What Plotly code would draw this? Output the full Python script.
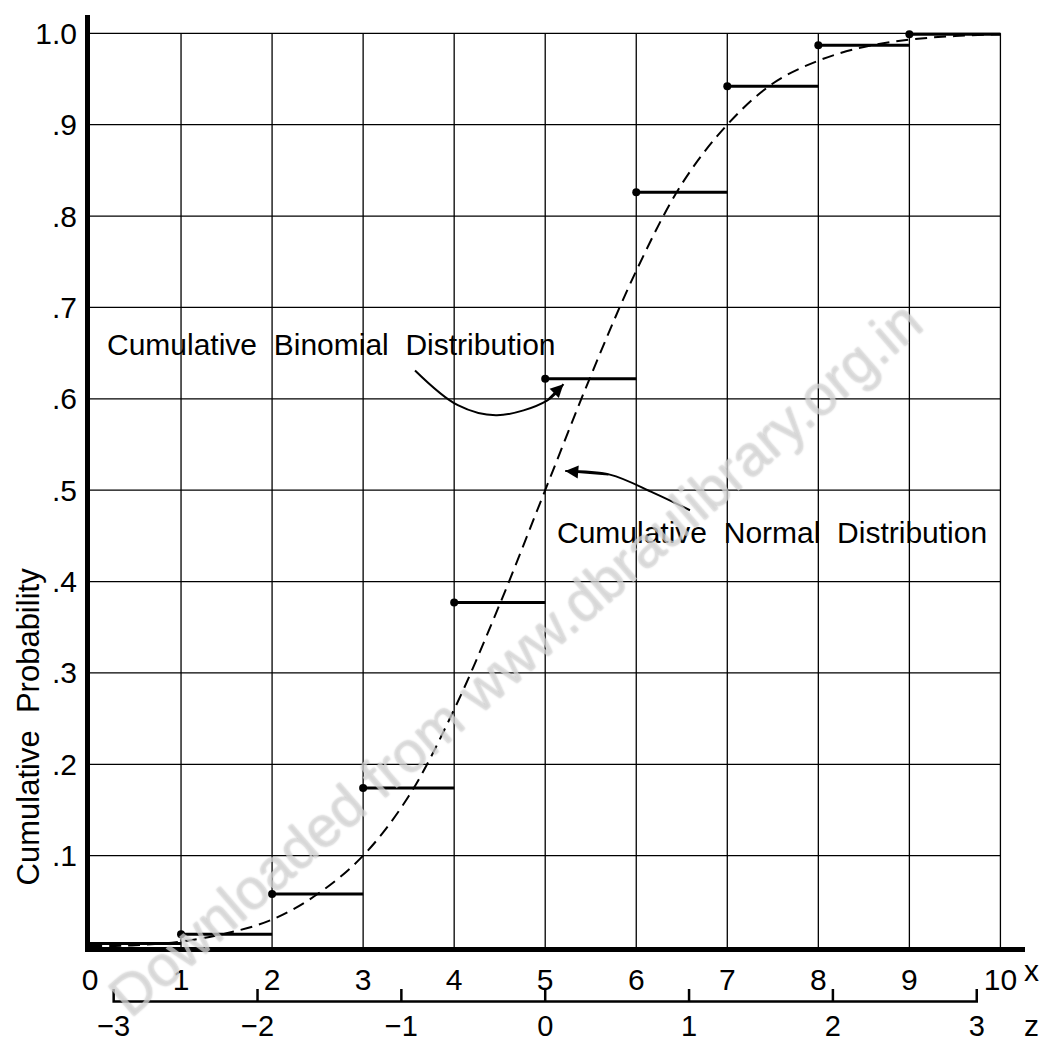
import plotly.graph_objects as go

# Cumulative binomial (n=10, p=.5)
x_values = [0, 1, 2, 3, 4, 5, 6, 7, 8, 9]
binom_cum = [0.004, 0.014, 0.058, 0.174, 0.377, 0.622, 0.826, 0.942, 0.987, 0.999]

# Dashed normal curve, read at half-unit steps
normal_x = [0, 0.5, 1, 1.5, 2, 2.5, 3, 3.5, 4, 4.5, 5, 5.5, 6, 6.5, 7, 7.5, 8, 8.5, 9, 9.5, 10]
normal_cum = [0.001, 0.002, 0.006, 0.015, 0.03, 0.058, 0.10, 0.165, 0.26, 0.375, 0.50,
              0.625, 0.74, 0.835, 0.90, 0.945, 0.97, 0.985, 0.993, 0.997, 0.999]

x_ticks = list(range(11))
x_ticktext = [str(v) for v in x_ticks]
y_ticks = [0.1, 0.2, 0.3, 0.4, 0.5, 0.6, 0.7, 0.8, 0.9, 1.0]
y_ticktext = [".1", ".2", ".3", ".4", ".5", ".6", ".7", ".8", ".9", "1.0"]
z_ticks = [-3, -2, -1, 0, 1, 2, 3]
z_ticktext = ["\u22123", "\u22122", "\u22121", "0", "1", "2", "3"]

MEAN = 5.0
SD = 1.58  # z = (x - 5) / 1.58

# curved pointer paths (data units)
binom_arrow_x = [3.57, 4.04, 4.47, 5.02, 5.20]
binom_arrow_y = [0.631, 0.593, 0.582, 0.598, 0.616]
normal_arrow_x = [6.59, 6.19, 5.71, 5.22]
normal_arrow_y = [0.478, 0.497, 0.517, 0.521]

FONT = "Liberation Sans, Arial, sans-serif"
X_MAX = 10.27

fig = go.Figure()

# grid: stops at x=10 and y=1.0
gx, gy = [], []
for xv in x_ticks[1:]:
    gx += [xv, xv, None]
    gy += [0, 1.0, None]
for yv in y_ticks:
    gx += [0, 10, None]
    gy += [yv, yv, None]
fig.add_trace(go.Scatter(x=gx, y=gy, mode="lines", line=dict(color="black", width=1.3),
                         hoverinfo="skip"))

# binomial steps
sx, sy = [], []
for xv, yv in zip(x_values, binom_cum):
    sx += [xv, xv + 1, None]
    sy += [yv, yv, None]
fig.add_trace(go.Scatter(x=sx, y=sy, mode="lines", line=dict(color="black", width=3)))
fig.add_trace(go.Scatter(x=x_values[1:], y=binom_cum[1:], mode="markers",
                         marker=dict(color="black", size=8)))

# normal curve
fig.add_trace(go.Scatter(x=normal_x, y=normal_cum, mode="lines",
                         line=dict(color="black", width=2, dash="12px,7px", shape="spline")))

# pointers
fig.add_trace(go.Scatter(x=binom_arrow_x, y=binom_arrow_y, mode="lines",
                         line=dict(color="black", width=2, shape="spline")))
fig.add_trace(go.Scatter(x=normal_arrow_x, y=normal_arrow_y, mode="lines",
                         line=dict(color="black", width=2, shape="spline")))

# z scale below the x axis
zx = [-3, -3, 3, 3, None]
zy = [1, 0, 0, 1, None]
for zv in z_ticks[1:-1]:
    zx += [zv, zv, None]
    zy += [0, 1, None]
fig.add_trace(go.Scatter(x=zx, y=zy, mode="lines", line=dict(color="black", width=2.5),
                         xaxis="x2", yaxis="y2"))

ann_font = dict(family=FONT, size=30, color="black")
fig.add_annotation(x=0.165, y=0.659, xref="x", yref="y", xanchor="left", yanchor="middle",
                   text="Cumulative  Binomial  Distribution", showarrow=False, font=ann_font)
fig.add_annotation(x=5.11, y=0.454, xref="x", yref="y", xanchor="left", yanchor="middle",
                   text="Cumulative  Normal  Distribution", showarrow=False, font=ann_font)
# arrow heads
fig.add_annotation(x=binom_arrow_x[-1], y=binom_arrow_y[-1], ax=binom_arrow_x[-2],
                   ay=binom_arrow_y[-2], xref="x", yref="y", axref="x", ayref="y",
                   text="", showarrow=True, arrowhead=2, arrowsize=1.3, arrowwidth=2,
                   arrowcolor="black")
fig.add_annotation(x=normal_arrow_x[-1], y=normal_arrow_y[-1], ax=normal_arrow_x[-2],
                   ay=normal_arrow_y[-2], xref="x", yref="y", axref="x", ayref="y",
                   text="", showarrow=True, arrowhead=2, arrowsize=1.3, arrowwidth=2,
                   arrowcolor="black")

fig.add_annotation(x=-0.066, y=0.281, xref="paper", yref="paper", text="Cumulative  Probability",
                   xanchor="center", yanchor="middle", textangle=-90, showarrow=False,
                   font=dict(family=FONT, size=31, color="black"))
fig.add_annotation(x=1.007, y=0.034, xref="paper", yref="paper", text="x", showarrow=False,
                   xanchor="center", yanchor="middle", font=ann_font)
fig.add_annotation(x=1.007, y=-0.022, xref="paper", yref="paper", text="z", showarrow=False,
                   xanchor="center", yanchor="middle", font=ann_font)

# watermark
fig.add_annotation(x=0.455, y=0.35, xref="paper", yref="paper",
                   text="Downloaded from www.dbraulibrary.org.in", textangle=-41, showarrow=False,
                   xanchor="center", yanchor="middle",
                   font=dict(family="Liberation Sans, Arial", size=57,
                             color="rgba(235,235,235,0.6)",
                             shadow="0px 0px 2px rgba(110,110,110,0.8)"))

# page body adds an 8px margin on every side, so the figure is smaller than the window
fig.update_layout(
    width=1032,
    height=1037,
    margin=dict(l=82, r=15, t=7, b=41),
    plot_bgcolor="white",
    paper_bgcolor="white",
    showlegend=False,
    font=dict(family=FONT, size=30, color="black"),
    xaxis=dict(range=[0, X_MAX], tickvals=x_ticks, ticktext=x_ticktext, showline=True,
               linewidth=5, linecolor="black", showgrid=False, zeroline=False, ticks="",
               anchor="y", ticklabelstandoff=2, tickfont=dict(size=30), automargin=False),
    yaxis=dict(range=[0, 1.02], domain=[0.0576, 1], tickvals=y_ticks, ticktext=y_ticktext,
               showline=True, linewidth=5, linecolor="black", showgrid=False,
               zeroline=False, ticks="", tickfont=dict(size=30), ticklabelstandoff=2,
               automargin=False),
    xaxis2=dict(range=[(0 - MEAN) / SD, (X_MAX - MEAN) / SD], tickvals=z_ticks,
                ticktext=z_ticktext, anchor="y2", showline=False, showgrid=False,
                zeroline=False, ticks="", ticklabelstandoff=2, tickfont=dict(size=29),
                automargin=False),
    yaxis2=dict(domain=[0, 0.0152], range=[-0.2, 1], visible=False, automargin=False),
)

fig.write_html("out.html")
